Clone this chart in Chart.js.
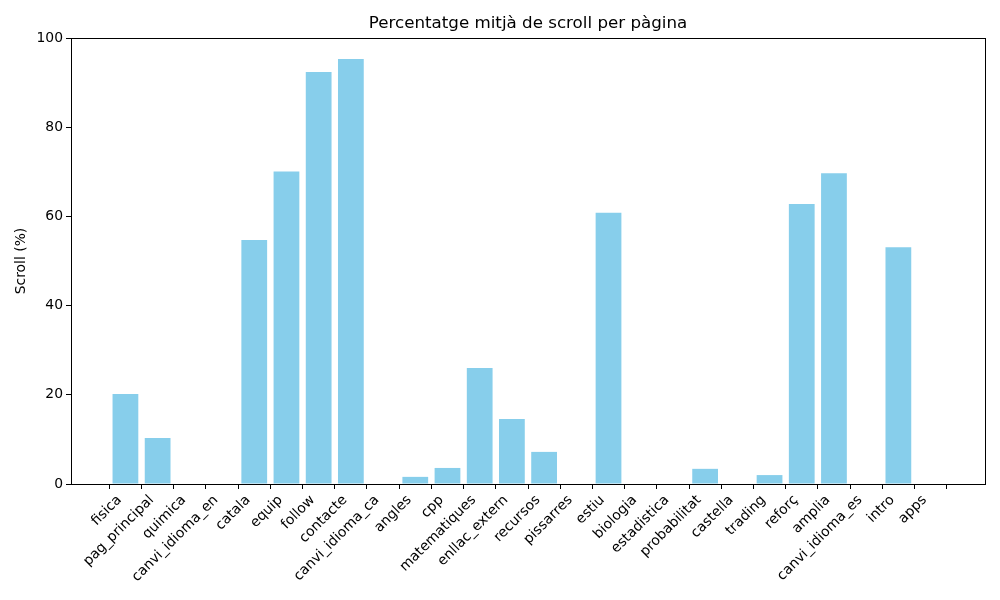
<!DOCTYPE html>
<html>
<head>
  <meta charset="utf-8">
  <title>Scroll</title>
  <script src="https://cdn.jsdelivr.net/npm/chart.js@4.4.1/dist/chart.umd.min.js"></script>
  <style>
    html, body { margin: 0; padding: 0; background: #fff; }
    #wrap { width: 1000px; height: 600px; }
  </style>
</head>
<body>
  <div id="wrap"><canvas id="myChart" width="1000" height="600"></canvas></div>
  <script type="text/javascript">
    var pages = [
      "fisica", "pag_principal", "quimica", "canvi_idioma_en", "catala", "equip",
      "follow", "contacte", "canvi_idioma_ca", "angles", "cpp", "matematiques",
      "enllac_extern", "recursos", "pissarres", "estiu", "biologia", "estadistica",
      "probabilitat", "castella", "trading", "reforç", "amplia", "canvi_idioma_es",
      "intro", "apps"
    ];
    var scrollPct = [
      20.2, 10.3, 0, 0, 54.7, 70.1,
      92.4, 95.3, 0, 1.6, 3.6, 26.0,
      14.6, 7.2, 0, 60.8, 0, 0,
      3.4, 0, 2.0, 62.8, 69.7, 0,
      53.1, 0
    ];
    var yTicks = [0, 20, 40, 60, 80, 100];

    var FONT = "'DejaVu Sans', sans-serif";
    Chart.defaults.font.family = FONT;
    Chart.defaults.color = "#000";

    // matplotlib style margins: 5% of data span on each side
    var span = (pages.length - 1) + 0.8;
    var xMin = -0.4 - span * 0.05;
    var xMax = pages.length - 1 + 0.4 + span * 0.05;

    var points = scrollPct.map(function(v, i) { return { x: i, y: v }; });

    var frame = {
      id: "frame",
      afterDatasetsDraw: function(chart) {
        var a = chart.chartArea, c = chart.ctx;
        c.save();
        c.strokeStyle = "#000";
        c.lineWidth = 1;
        c.strokeRect(Math.round(a.left) + 0.5, Math.round(a.top) + 0.5,
                     Math.round(a.right - a.left), Math.round(a.bottom - a.top));
        c.restore();
      }
    };

    var ctx = document.getElementById("myChart");
    var chart = new Chart(ctx, {
      type: "bar",
      data: {
        datasets: [{
          data: points,
          backgroundColor: "#87CEEB",
          borderWidth: 0,
          barPercentage: 0.8,
          categoryPercentage: 1.0
        }]
      },
      plugins: [frame],
      options: {
        responsive: false,
        animation: false,
        layout: { padding: { left: 0, right: 15, top: 0, bottom: 0 } },
        plugins: {
          legend: { display: false },
          tooltip: { enabled: false },
          title: {
            display: true,
            fullSize: false,
            text: "Percentatge mitjà de scroll per pàgina",
            font: { family: FONT, size: 16.7, weight: "normal", lineHeight: 1.2 },
            padding: { top: 14, bottom: 4 }
          }
        },
        scales: {
          x: {
            type: "linear",
            min: xMin,
            max: xMax,
            offset: false,
            afterBuildTicks: function(scale) {
              scale.ticks = pages.map(function(p, i) { return { value: i }; });
            },
            afterFit: function(scale) { scale.height = 116; },
            ticks: {
              autoSkip: false,
              minRotation: 45,
              maxRotation: 45,
              padding: 3,
              labelOffset: -6,
              font: { family: FONT, size: 13.9 },
              callback: function(v) { return pages[v]; }
            },
            grid: { drawOnChartArea: false, tickLength: 5, color: "#000" },
            border: { display: true, color: "#000", width: 1 }
          },
          y: {
            min: 0,
            max: 100,
            afterBuildTicks: function(scale) {
              scale.ticks = yTicks.map(function(v) { return { value: v }; });
            },
            afterFit: function(scale) { scale.width = 71; },
            ticks: {
              padding: 3,
              font: { family: FONT, size: 13.9 }
            },
            grid: { drawOnChartArea: false, tickLength: 5, color: "#000" },
            border: { display: true, color: "#000", width: 1 },
            title: {
              display: true,
              text: "Scroll (%)",
              font: { family: FONT, size: 13.9 },
              padding: { top: 13, bottom: 0 }
            }
          }
        }
      }
    });
  </script>
</body>
</html>
